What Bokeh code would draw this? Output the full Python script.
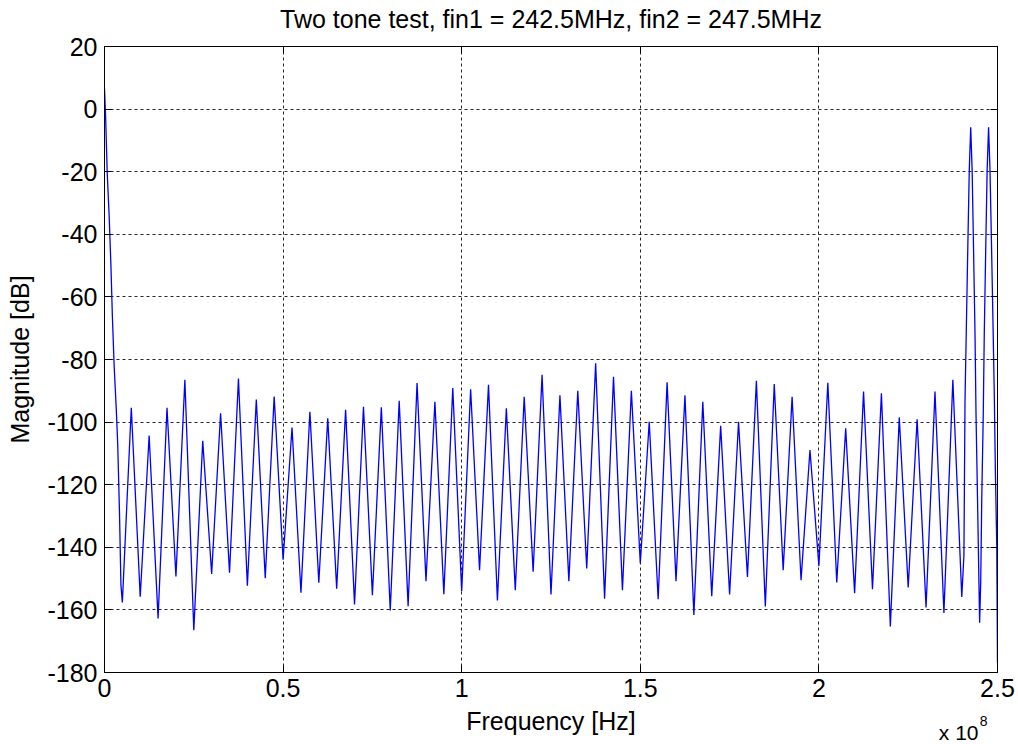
from bokeh.plotting import figure
from bokeh.models import LinearAxis, Range1d, FixedTicker, Title
from bokeh.embed import file_html
from bokeh.resources import INLINE

# ---- data (frequency in MHz, magnitude in dB) ----
freq_mhz = [
    0.0, 0.3, 0.75, 1.3, 1.8, 2.2, 2.7, 3.3, 3.7, 4.2, 4.6, 5.0,
    7.5, 10.0, 12.5, 15.0, 17.5, 20.0, 22.5, 25.0, 27.5, 30.0,
    32.5, 35.0, 37.5, 40.0, 42.5, 45.0, 47.5, 50.0, 52.5, 55.0,
    57.5, 60.0, 62.5, 65.0, 67.5, 70.0, 72.5, 75.0, 77.5, 80.0,
    82.5, 85.0, 87.5, 90.0, 92.5, 95.0, 97.5, 100.0, 102.5, 105.0,
    107.5, 110.0, 112.5, 115.0, 117.5, 120.0, 122.5, 125.0, 127.5, 130.0,
    132.5, 135.0, 137.5, 140.0, 142.5, 145.0, 147.5, 150.0, 152.5, 155.0,
    157.5, 160.0, 162.5, 165.0, 167.5, 170.0, 172.5, 175.0, 177.5, 180.0,
    182.5, 185.0, 187.5, 190.0, 192.5, 195.0, 197.5, 200.0, 202.5, 205.0,
    207.5, 210.0, 212.5, 215.0, 217.5, 220.0, 222.5, 225.0, 227.5, 230.0,
    232.5, 235.0, 237.5, 240.0,
    240.6, 240.9, 241.3, 241.7, 242.1, 242.5, 242.9, 243.3, 243.7, 244.0,
    244.4, 244.8, 245.0, 245.3, 245.6, 246.0, 246.3, 246.7, 247.1, 247.5,
    247.9, 248.3, 248.7, 249.1, 249.4, 249.8, 250.0,
]
mag_db = [
    6.5, -2.0, -20.0, -34.0, -50.0, -66.0, -82.0, -96.0, -107.0, -129.0, -152.0, -157.6,
    -95.4, -155.8, -104.3, -162.7, -95.4, -149.3, -86.5, -166.5, -106.0, -148.5,
    -97.2, -148.1, -86.1, -152.3, -92.8, -149.9, -91.8, -144.0, -101.7, -154.5,
    -96.7, -151.3, -98.8, -153.2, -96.1, -158.3, -95.1, -155.3, -95.3, -160.2,
    -93.2, -158.8, -87.5, -150.8, -93.5, -155.0, -89.1, -154.0, -89.5, -147.3,
    -88.1, -157.0, -95.6, -153.7, -91.9, -147.8, -84.9, -155.1, -91.4, -150.8,
    -90.0, -146.8, -81.2, -156.4, -85.5, -153.7, -90.0, -145.2, -99.9, -156.6,
    -87.3, -150.8, -91.4, -161.6, -93.5, -155.6, -101.2, -155.1, -99.9, -149.5,
    -86.8, -158.9, -87.8, -147.3, -91.9, -150.5, -108.9, -146.0, -87.4, -151.2,
    -102.0, -154.7, -90.2, -153.4, -90.8, -165.3, -98.5, -152.8, -99.1, -159.2,
    -90.2, -161.0, -86.5, -155.9,
    -142.6, -93.6, -68.5, -43.4, -19.5, -5.8, -19.5, -45.0, -71.6, -98.5,
    -124.0, -151.0, -164.1, -151.0, -124.0, -98.5, -71.6, -45.0, -19.5, -5.8,
    -19.5, -42.0, -66.0, -91.0, -115.0, -140.0, -177.0,
]

x_ticks = [0.0, 0.5e8, 1.0e8, 1.5e8, 2.0e8, 2.5e8]
x_tick_labels = ["0", "0.5", "1", "1.5", "2", "2.5"]
y_ticks = [-180, -160, -140, -120, -100, -80, -60, -40, -20, 0, 20]
y_tick_labels = [str(v) for v in y_ticks]

title_text = "Two tone test, fin1 = 242.5MHz, fin2 = 247.5MHz"
x_label = "Frequency [Hz]"
y_label = "Magnitude [dB]"
x_exp_base = "x 10"
x_exp_power = "8"

FONT = "Liberation Sans"
FS = "25px"

freq_hz = [f * 1e6 for f in freq_mhz]

p = figure(width=1018, height=744, output_backend="svg", toolbar_location=None,
           x_range=Range1d(0, 2.5e8), y_range=Range1d(-180, 20),
           min_border_left=104, min_border_right=21, min_border_top=46,
           min_border_bottom=72, background_fill_color="white",
           border_fill_color="white")
p.title.text = ""

p.outline_line_color = "black"
p.outline_line_width = 1

def style_axis(ax, ticks, labels, show_labels=True):
    ax.ticker = FixedTicker(ticks=ticks)
    ax.major_label_overrides = {t: (l if show_labels else "") for t, l in zip(ticks, labels)}
    ax.major_tick_in = 7
    ax.major_tick_out = 0
    ax.minor_tick_line_color = None
    ax.major_tick_line_color = "black"
    ax.axis_line_color = "black"
    ax.major_label_text_font = FONT
    ax.major_label_text_font_size = FS if show_labels else "0px"
    ax.major_label_text_color = "black"
    ax.axis_label_text_font = FONT
    ax.axis_label_text_font_size = FS
    ax.axis_label_text_font_style = "normal"
    ax.axis_label_text_color = "black"

style_axis(p.xaxis[0], x_ticks, x_tick_labels)
p.xaxis[0].major_label_standoff = 6
p.xaxis[0].axis_label = x_label
p.xaxis[0].axis_label_standoff = 7

style_axis(p.yaxis[0], y_ticks, y_tick_labels)
p.yaxis[0].major_label_standoff = 7
p.yaxis[0].axis_label = y_label
p.yaxis[0].axis_label_standoff = 10

# top axis: mirrored ticks, carries the chart title as its label
top_ax = LinearAxis()
style_axis(top_ax, x_ticks, x_tick_labels, show_labels=False)
top_ax.major_label_standoff = 0
top_ax.axis_label = title_text
top_ax.axis_label_standoff = 14
p.add_layout(top_ax, "above")

right_ax = LinearAxis()
style_axis(right_ax, y_ticks, y_tick_labels, show_labels=False)
right_ax.major_label_standoff = 0
p.add_layout(right_ax, "right")

for g, ticks in ((p.xgrid[0], x_ticks), (p.ygrid[0], y_ticks)):
    g.ticker = FixedTicker(ticks=ticks)
    g.grid_line_color = "black"
    g.grid_line_alpha = 0.85
    g.grid_line_dash = "3 3"
    g.grid_line_width = 1

p.line(freq_hz, mag_db, line_color="#0000ff", line_width=1.3)

exp_base = Title(text=x_exp_base, align="right", vertical_align="top", offset=19,
                 standoff=-34, text_font=FONT, text_font_size="21px",
                 text_font_style="normal", text_color="black")
exp_power = Title(text=x_exp_power, align="right", vertical_align="top", offset=10,
                  standoff=-44, text_font=FONT, text_font_size="14px",
                  text_font_style="normal", text_color="black")
p.add_layout(exp_base, "below")
p.add_layout(exp_power, "below")

open("out.html", "w").write(file_html(p, INLINE))
